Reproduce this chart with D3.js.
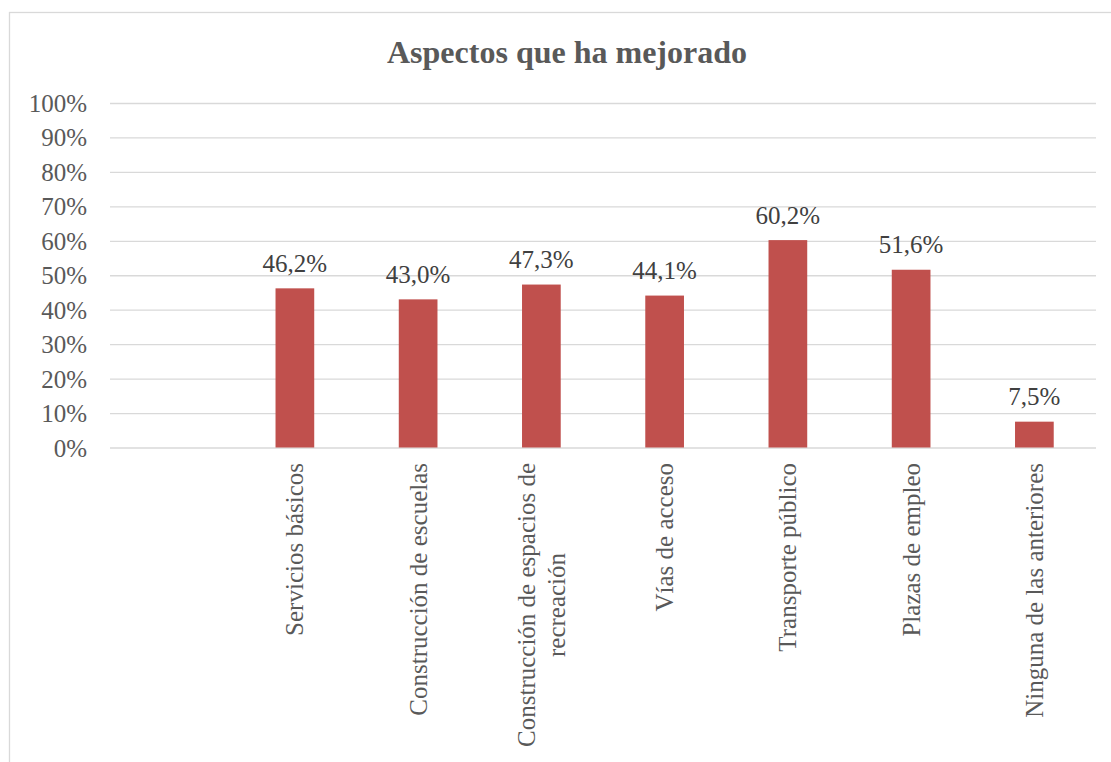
<!DOCTYPE html>
<html><head><meta charset="utf-8">
<script src="https://cdn.jsdelivr.net/npm/d3@7"></script>
<style>body{margin:0;background:#fff;}svg{display:block;}</style>
</head><body>
<svg id="c" width="1111" height="762"></svg>
<script>
const title = "Aspectos que ha mejorado";
const categories = ["", "Servicios básicos", "Construcción de escuelas", "Construcción de espacios de\nrecreación", "Vías de acceso", "Transporte público", "Plazas de empleo", "Ninguna de las anteriores"];
const values = [null, 0.462, 0.430, 0.473, 0.441, 0.602, 0.516, 0.075];
const labels = ["", "46,2%", "43,0%", "47,3%", "44,1%", "60,2%", "51,6%", "7,5%"];
const yTicks = [0, 0.1, 0.2, 0.3, 0.4, 0.5, 0.6, 0.7, 0.8, 0.9, 1.0];

const svg = d3.select("#c");
const font = "'Liberation Serif', 'Times New Roman', serif";
const m = {left: 110, right: 1096, top: 103, bottom: 447.5};

svg.append("rect").attr("x", 9.5).attr("y", 12.5).attr("width", 1200).attr("height", 900)
  .attr("fill", "#fff").attr("stroke", "#d9d9d9").attr("stroke-width", 1.3);

svg.append("text").attr("x", 567).attr("y", 62.5).attr("text-anchor", "middle")
  .attr("font-family", font).attr("font-weight", "bold").attr("font-size", 32)
  .attr("fill", "#595959").text(title);

const x = d3.scaleBand().domain(d3.range(categories.length)).range([m.left, m.right]).paddingInner(0).paddingOuter(0);
const y = d3.scaleLinear().domain([0, 1]).range([m.bottom, m.top]);

const yAxis = d3.axisLeft(y).tickValues(yTicks).tickSize(-(m.right - m.left)).tickPadding(23)
  .tickFormat(d => Math.round(d * 100) + "%");
const gy = svg.append("g").attr("transform", `translate(${m.left},0)`).call(yAxis);
gy.select(".domain").remove();
gy.selectAll(".tick line").attr("stroke", "#d9d9d9").attr("stroke-width", 1.3);
gy.selectAll(".tick text").attr("font-family", font).attr("font-size", 25).attr("fill", "#595959").attr("dy", "0.34em");

const bw = x.bandwidth() * 0.314;
const idx = d3.range(categories.length).filter(i => values[i] != null);
svg.append("g").selectAll("rect").data(idx).join("rect")
  .attr("x", i => x(i) + x.bandwidth() / 2 - bw / 2)
  .attr("y", i => y(values[i]))
  .attr("width", bw)
  .attr("height", i => y(0) - y(values[i]))
  .attr("fill", "#c0504d");

svg.append("g").selectAll("text").data(idx).join("text")
  .attr("x", i => x(i) + x.bandwidth() / 2)
  .attr("y", i => y(values[i]) - 16.5)
  .attr("text-anchor", "middle")
  .attr("font-family", font).attr("font-size", 25).attr("fill", "#404040")
  .text(i => labels[i]);

// category labels rotated
const top0 = 463;
const lh = 30;
idx.forEach(i => {
  const lines = categories[i].split("\n");
  const cx = x(i) + x.bandwidth() / 2;
  const g = svg.append("g");
  const ts = lines.map((ln, k) => g.append("text")
    .attr("font-family", font).attr("font-size", 25).attr("fill", "#595959")
    .attr("text-anchor", "middle").text(ln));
  const maxW = d3.max(ts, t => t.node().getComputedTextLength());
  const n = lines.length;
  ts.forEach((t, k) => {
    const lx = cx + (k - (n - 1) / 2) * lh;
    const ly = top0 + maxW / 2;
    t.attr("transform", `translate(${lx},${ly}) rotate(-90)`).attr("dy", "0.34em");
  });
});
</script>
</body></html>
